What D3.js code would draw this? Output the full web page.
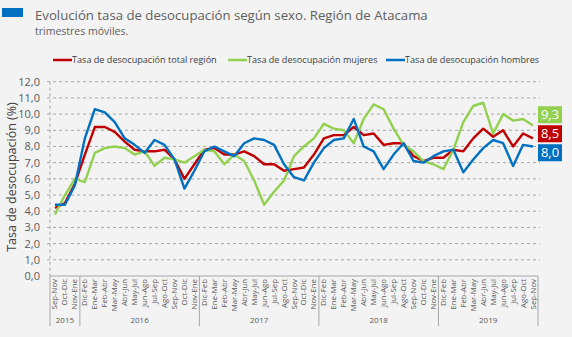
<!DOCTYPE html>
<html>
<head>
<meta charset="utf-8">
<script src="https://cdn.jsdelivr.net/npm/d3@7"></script>
<style>
  html, body { margin: 0; padding: 0; background: #f3f3f3; }
  svg { display: block; font-family: "Open Sans", sans-serif; }
</style>
</head>
<body>
<svg id="chart" width="572" height="337"></svg>
<script>
// Rolling-quarter labels, one per observation
const categories = [
  "Sep-Nov","Oct-Dic","Nov-Ene",
  "Dic-Feb","Ene-Mar","Feb-Abr","Mar-May","Abr-Jun","May-Jul","Jun-Ago","Jul-Sep","Ago-Oct","Sep-Nov","Oct-Dic","Nov-Ene",
  "Dic-Feb","Ene-Mar","Feb-Abr","Mar-May","Abr-Jun","May-Jul","Jun-Ago","Jul-Sep","Ago-Oct","Sep-Nov","Oct-Dic","Nov-Ene",
  "Dic-Feb","Ene-Mar","Feb-Abr","Mar-May","Abr-Jun","May-Jul","Jun-Ago","Jul-Sep","Ago-Oct","Sep-Nov","Oct-Dic","Nov-Ene",
  "Dic-Feb","Ene-Mar","Feb-Abr","Mar-May","Abr-Jun","May-Jul","Jun-Ago","Jul-Sep","Ago-Oct","Sep-Nov"
];
const years = ["2015","2016","2017","2018","2019"];
const yearCounts = [3, 12, 12, 12, 10];

const totalRegion = [4.2,4.5,5.7,7.5,9.2,9.2,8.9,8.3,7.8,7.7,7.7,7.8,7.2,6.0,6.9,7.8,7.9,7.5,7.5,7.7,7.4,6.9,6.9,6.5,6.6,6.7,7.5,8.5,8.7,8.7,9.2,8.7,8.8,8.1,8.2,8.2,7.4,7.1,7.3,7.3,7.8,7.7,8.5,9.1,8.6,9.0,8.0,8.8,8.5];
const women = [3.8,5.0,6.0,5.8,7.6,7.9,8.0,7.9,7.5,7.7,6.8,7.3,7.2,7.0,7.4,7.8,7.7,6.9,7.5,7.1,5.9,4.4,5.2,5.9,7.4,8.0,8.5,9.4,9.1,9.0,8.2,9.7,10.6,10.3,9.1,8.1,7.7,7.1,6.9,6.6,7.8,9.5,10.5,10.7,8.8,10.0,9.6,9.7,9.3];
const men = [4.4,4.4,5.6,8.5,10.3,10.1,9.5,8.5,8.1,7.6,8.4,8.1,7.2,5.4,6.5,7.7,8.0,7.7,7.4,8.2,8.5,8.4,8.1,6.9,6.1,5.9,7.0,7.9,8.4,8.5,9.7,8.0,7.7,6.6,7.5,8.2,7.1,7.0,7.4,7.7,7.8,6.4,7.2,7.9,8.4,8.2,6.8,8.1,8.0];

const seriesNames = ["Tasa de desocupación total región","Tasa de desocupación mujeres","Tasa de desocupación hombres"];
const seriesColors = ["#c00000","#92d050","#0070c0"];
const yTicks = [0,1,2,3,4,5,6,7,8,9,10,11,12];

const series = [totalRegion, women, men].map((values, k) => ({
  name: seriesNames[k], color: seriesColors[k], values
}));

const es = d3.formatLocale({decimal: ",", thousands: ".", grouping: [3], currency: ["", "€"]});
const fmt = es.format(".1f");

const svg = d3.select("#chart");
const plotLeft = 50, plotRight = 538, plotTop = 81.7, plotBottom = 276;

const x = d3.scaleBand().domain(d3.range(categories.length)).range([plotLeft, plotRight]).padding(0);
const cx = i => x(i) + x.bandwidth() / 2;
const y = d3.scaleLinear().domain([0, 12]).range([plotBottom, plotTop]);

// Header
svg.append("rect").attr("x", 2).attr("y", 8).attr("width", 21).attr("height", 9).attr("fill", "#0070c0");
svg.append("text").attr("x", 35).attr("y", 20).attr("font-size", 13.2).attr("fill", "#606060")
  .text("Evolución tasa de desocupación según sexo. Región de Atacama");
svg.append("text").attr("x", 35).attr("y", 35).attr("font-size", 10.5).attr("fill", "#606060")
  .text("trimestres móviles.");

// Legend
const legendX = [53, 228, 386];
const legend = svg.append("g");
series.forEach((s, k) => {
  legend.append("line").attr("x1", legendX[k]).attr("x2", legendX[k] + 19)
    .attr("y1", 60).attr("y2", 60).attr("stroke", s.color).attr("stroke-width", 2.5);
  legend.append("text").attr("x", legendX[k] + 19).attr("y", 63.3)
    .attr("font-size", 9.1).attr("fill", "#404040").text(s.name);
});

// Horizontal dashed grid + y axis labels
const yAxis = d3.axisLeft(y).tickValues(yTicks).tickFormat(fmt).tickSize(0).tickPadding(10);
const gy = svg.append("g").attr("transform", `translate(${plotLeft},0)`).call(yAxis);
gy.select(".domain").remove();
gy.selectAll("text").attr("font-size", 11).attr("fill", "#595959").attr("font-family", "Open Sans, sans-serif");

svg.append("g").selectAll("line").data(yTicks.filter(t => t > 0)).join("line")
  .attr("x1", plotLeft - 3).attr("x2", plotRight + 2)
  .attr("y1", d => y(d)).attr("y2", d => y(d))
  .attr("stroke", "#a6a6a6").attr("stroke-width", 1).attr("stroke-dasharray", "3,3");

svg.append("line").attr("x1", plotLeft).attr("x2", plotLeft).attr("y1", plotTop).attr("y2", plotBottom)
  .attr("stroke", "#a6a6a6").attr("stroke-dasharray", "3,3");

// Category axis
const xAxis = d3.axisBottom(x).tickFormat(i => categories[i]).tickSize(0).tickPadding(0);
const gx = svg.append("g").attr("transform", `translate(0,${plotBottom})`).call(xAxis);
gx.select(".domain").attr("stroke", "#a6a6a6").attr("d", `M${plotLeft},0H${plotRight}`);
gx.selectAll("text")
  .attr("transform", "rotate(-90)")
  .attr("text-anchor", "end")
  .attr("x", -3).attr("y", 0).attr("dy", "0.32em")
  .attr("font-size", 7.8).attr("fill", "#595959").attr("font-family", "Open Sans, sans-serif");

// Year groups
const yearG = svg.append("g");
const bounds = [0];
yearCounts.forEach(c => bounds.push(bounds[bounds.length - 1] + c));
bounds.forEach(b => {
  const bx = b < categories.length ? x(b) : plotRight;
  yearG.append("line").attr("x1", bx).attr("x2", bx).attr("y1", plotBottom).attr("y2", 326)
    .attr("stroke", "#a6a6a6");
});
years.forEach((yr, k) => {
  const x0 = x(bounds[k]);
  const x1 = bounds[k + 1] < categories.length ? x(bounds[k + 1]) : plotRight;
  yearG.append("text").attr("x", (x0 + x1) / 2).attr("y", 322.5).attr("text-anchor", "middle")
    .attr("font-size", 8).attr("fill", "#595959").text(yr);
});

// Y axis title
svg.append("text").attr("transform", "translate(16,177) rotate(-90)")
  .attr("text-anchor", "middle").attr("font-size", 12.5).attr("fill", "#404040")
  .text("Tasa de desocupación (%)");

// Lines
const line = d3.line().x((d, i) => cx(i)).y(d => y(d));
svg.append("g").selectAll("path").data(series).join("path")
  .attr("d", s => line(s.values)).attr("fill", "none")
  .attr("stroke", s => s.color).attr("stroke-width", 2.4)
  .attr("stroke-linejoin", "round");

// End value tags, spread apart so they don't overlap
const last = categories.length - 1;
const tags = series.map(s => ({s, v: s.values[last], cy: y(s.values[last])}))
  .sort((a, b) => a.cy - b.cy);
const gap = 19;
for (let iter = 0; iter < 20; iter++) {
  for (let k = 1; k < tags.length; k++) {
    const d = tags[k].cy - tags[k - 1].cy;
    if (d < gap) { const m = (gap - d) / 2; tags[k].cy += m; tags[k - 1].cy -= m; }
  }
}
const tagG = svg.append("g");
tags.forEach(t => {
  const cyc = t.cy - 3;
  tagG.append("rect").attr("x", 538).attr("y", cyc - 8.5).attr("width", 24).attr("height", 17)
    .attr("fill", t.s.color);
  tagG.append("text").attr("x", 550).attr("y", cyc).attr("dy", "0.36em").attr("text-anchor", "middle")
    .attr("font-size", 13).attr("fill", "#ffffff").text(fmt(t.v));
});
</script>
</body>
</html>
